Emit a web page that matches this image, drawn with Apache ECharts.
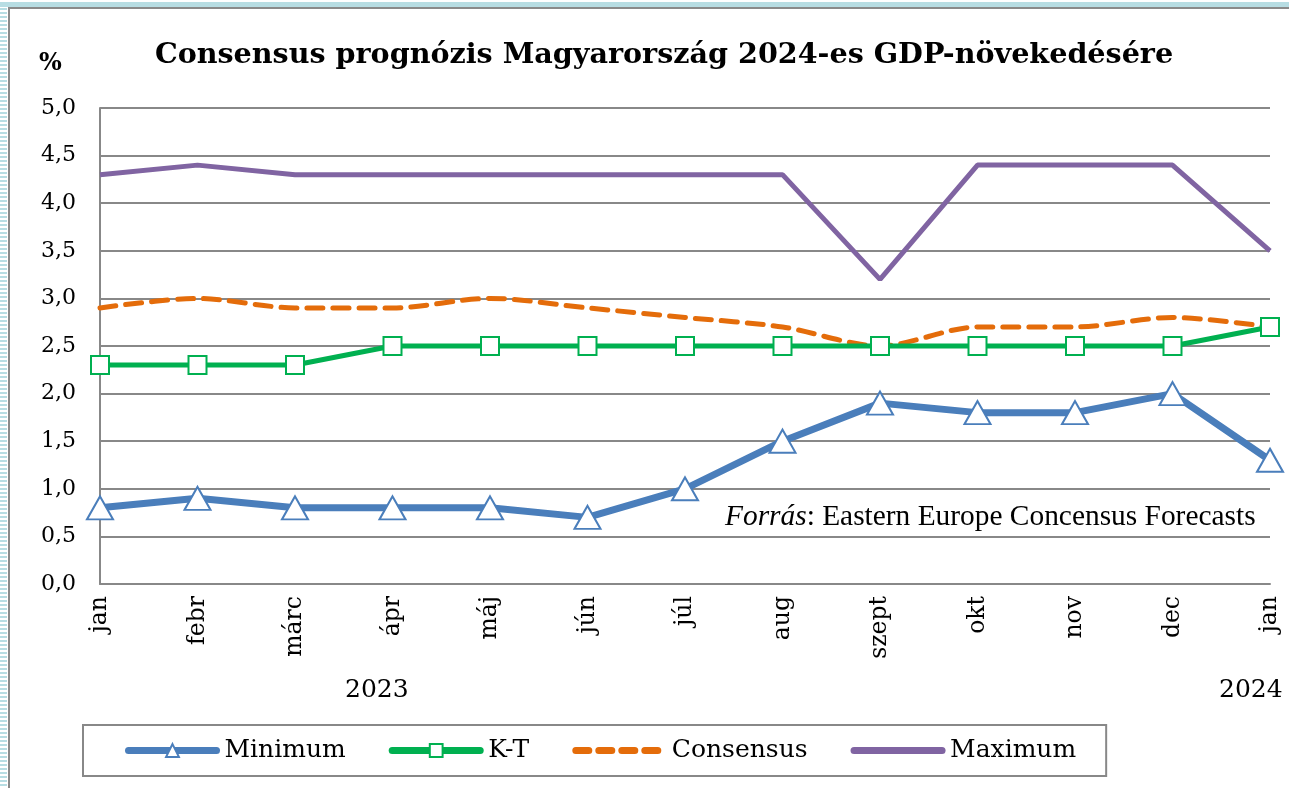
<!DOCTYPE html>
<html>
<head>
<meta charset="utf-8">
<script src="https://cdn.jsdelivr.net/npm/echarts@6/dist/echarts.min.js"></script>
<style>
  html, body { margin: 0; padding: 0; background: #fff; }
  #chart { width: 1289px; height: 788px; }
</style>
</head>
<body>
<div id="chart"></div>
<script>
// months of the survey (2023 jan .. 2024 jan)
const months = ['jan', 'febr', 'márc', 'ápr', 'máj', 'jún', 'júl', 'aug', 'szept', 'okt', 'nov', 'dec', 'jan']
const minimum = [0.8, 0.9, 0.8, 0.8, 0.8, 0.7, 1.0, 1.5, 1.9, 1.8, 1.8, 2.0, 1.3]
const kt = [2.3, 2.3, 2.3, 2.5, 2.5, 2.5, 2.5, 2.5, 2.5, 2.5, 2.5, 2.5, 2.7]
const consensus = [2.9, 3.0, 2.9, 2.9, 3.0, 2.9, 2.8, 2.7, 2.5, 2.7, 2.7, 2.8, 2.7]
const maximum = [4.3, 4.4, 4.3, 4.3, 4.3, 4.3, 4.3, 4.3, 3.2, 4.4, 4.4, 4.4, 3.5]
const yearLabels = ['2023', '2024']

const serif = '"DejaVu Serif", "Liberation Serif", serif'
const times = '"Liberation Serif", "DejaVu Serif", serif'

const blue = '#4a7ebb'
const green = '#00b050'
const orange = '#e46c0a'
const purple = '#8064a2'

const chart = echarts.init(document.getElementById('chart'), null, { renderer: 'canvas' })

chart.setOption({
  animation: false,
  backgroundColor: '#fff',
  title: {
    text: 'Consensus prognózis Magyarország 2024-es GDP-növekedésére',
    left: 659,
    textAlign: 'center',
    top: 36,
    textStyle: { fontFamily: serif, fontWeight: 'bold', fontSize: 28.6, color: '#000' },
  },
  legend: {
    left: 83,
    top: 725,
    padding: [13, 30, 13, 42],
    borderColor: '#888',
    borderWidth: 2,
    itemWidth: 88,
    itemHeight: 16,
    itemGap: 43,
    textStyle: { fontFamily: serif, fontSize: 25, color: '#000', padding: [0, 0, 0, 3] },
    data: [
      { name: 'Minimum', lineStyle: { width: 7, cap: 'round' } },
      { name: 'K-T', lineStyle: { width: 7, cap: 'round' } },
      { name: 'Consensus', lineStyle: { width: 7, cap: 'round', type: [13, 10] }, itemStyle: { opacity: 0 } },
      { name: 'Maximum', lineStyle: { width: 7, cap: 'round' }, itemStyle: { opacity: 0 } },
    ],
  },
  grid: { left: 100, right: 19, top: 108, bottom: 204 },
  xAxis: {
    type: 'category',
    data: months,
    boundaryGap: false,
    axisLine: { show: true, lineStyle: { color: '#888', width: 2 } },
    axisTick: { show: false },
    axisLabel: {
      rotate: 90,
      margin: 12,
      interval: 0,
      fontFamily: serif,
      fontSize: 23.5,
      color: '#000',
    },
  },
  yAxis: {
    type: 'value',
    min: 0,
    max: 5,
    interval: 0.5,
    axisLine: { show: true, lineStyle: { color: '#888', width: 2 } },
    axisTick: { show: false },
    splitLine: { lineStyle: { color: '#888', width: 2 } },
    axisLabel: {
      margin: 24,
      fontFamily: serif,
      fontSize: 22,
      color: '#000',
      formatter: (v) => v.toFixed(1).replace('.', ','),
    },
  },
  series: [
    {
      name: 'Minimum',
      type: 'line',
      data: minimum,
      symbol: 'triangle',
      symbolSize: [26, 23],
      lineStyle: { color: blue, width: 7 },
      itemStyle: { color: '#fff', borderColor: blue, borderWidth: 2 },
      z: 4,
    },
    {
      name: 'K-T',
      type: 'line',
      data: kt,
      symbol: 'rect',
      symbolSize: 18,
      lineStyle: { color: green, width: 5 },
      itemStyle: { color: '#fff', borderColor: green, borderWidth: 2 },
      z: 3,
    },
    {
      name: 'Consensus',
      type: 'line',
      data: consensus,
      smooth: 0.3,
      showSymbol: false,
      symbol: 'none',
      lineStyle: { color: orange, width: 5, type: [16, 10], cap: 'round' },
      itemStyle: { color: orange },
      z: 2,
    },
    {
      name: 'Maximum',
      type: 'line',
      data: maximum,
      showSymbol: false,
      symbol: 'none',
      lineStyle: { color: purple, width: 5 },
      itemStyle: { color: purple },
      z: 2,
    },
  ],
  graphic: [
    // outer decorative frame
    { type: 'rect', shape: { x: 0, y: 2, width: 1289, height: 5 }, style: { fill: '#b7dde3' }, silent: true },
    { type: 'line', shape: { x1: 3.5, y1: 8, x2: 3.5, y2: 788 }, style: { stroke: '#b7dde3', lineWidth: 7, lineDash: [2, 2] }, silent: true },
    { type: 'rect', shape: { x: 9, y: 8, width: 1300, height: 800 }, style: { fill: null, stroke: '#8a8a8a', lineWidth: 2 }, silent: true },
    {
      type: 'text', left: 39, top: 52,
      style: { text: '%', font: 'bold 24px ' + serif, fill: '#000' },
    },
    {
      type: 'text', left: 345, top: 678,
      style: { text: yearLabels[0], font: '25px ' + serif, fill: '#000' },
    },
    {
      type: 'text', left: 1219, top: 678,
      style: { text: yearLabels[1], font: '25px ' + serif, fill: '#000' },
    },
    {
      type: 'text', left: 725, top: 503,
      style: {
        text: '{i|Forrás}: Eastern Europe Concensus Forecasts',
        font: '29.4px ' + times,
        fill: '#000',
        rich: { i: { fontStyle: 'italic', fontFamily: times, fontSize: 29.4 } },
      },
    },
  ],
})
</script>
</body>
</html>
